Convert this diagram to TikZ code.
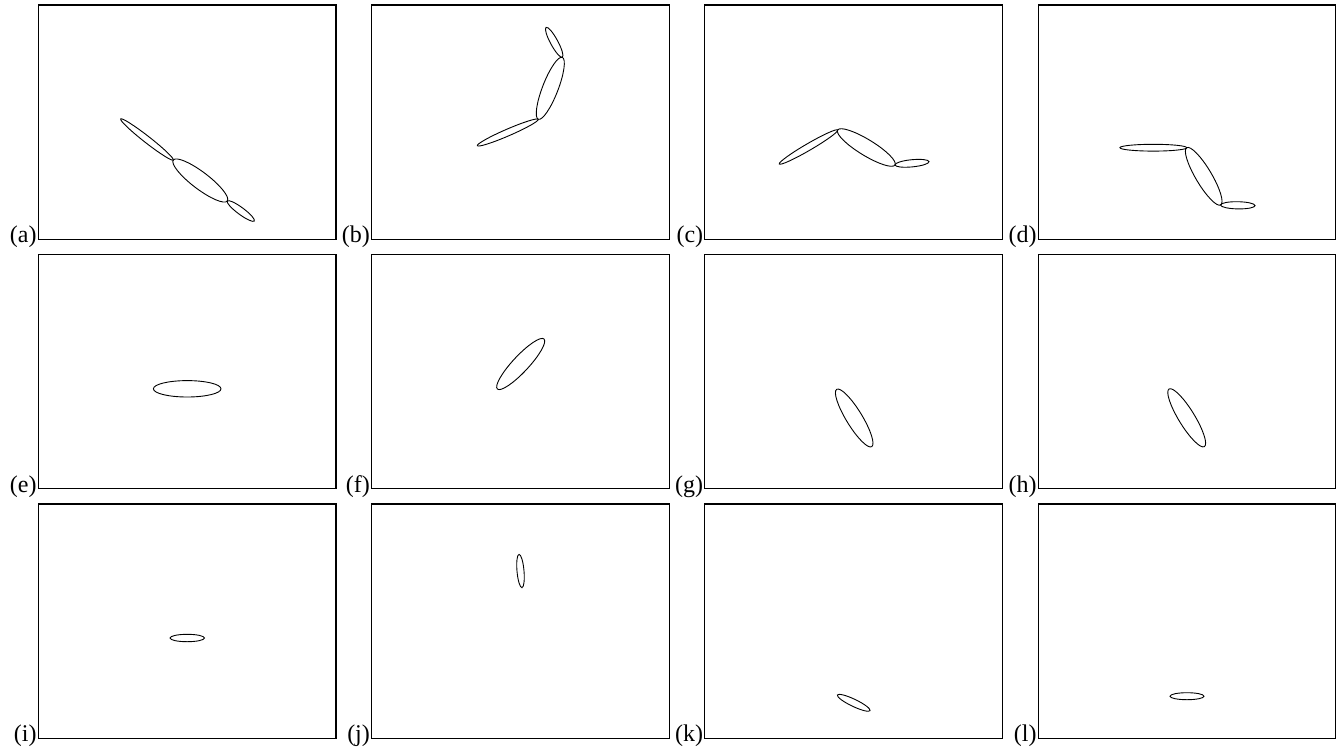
\documentclass[tikz,border=0pt]{standalone}
\usepackage{fontspec}
\setmainfont{Liberation Serif}
\begin{document}
\begin{tikzpicture}[x=1pt,y=-1pt,
  panel/.style={draw=black,line width=1.1pt},
  link/.style={draw=black,line width=0.9pt},
  lbl/.style={anchor=base east,inner sep=0pt,font=\fontsize{24}{24}\selectfont}]
\useasboundingbox (0,0) rectangle (1341,750);
\newcommand\limb[5]{\draw[link,rotate around={#5:(#1,#2)}] (#1,#2) ellipse (#3 and #4);}
% panels
\foreach \c/\r/\t [count=\i] in {0/0/a,1/0/b,2/0/c,3/0/d,0/1/e,1/1/f,2/1/g,3/1/h,0/2/i,1/2/j,2/2/k,3/2/l}{
  \pgfmathsetmacro\xl{38.3+333.3*\c}
  \pgfmathsetmacro\yt{5+249.5*\r}
  \draw[panel] (\xl,\yt) rectangle ++(297.7,234.3);
  \node[lbl] (lab\t) at (\xl-1.5,\yt+237.5) {(\t)};
}
% (a)
\limb{147}{139.5}{33.4}{3.3}{-38}
\limb{200.3}{180.5}{33.9}{8.5}{-37.2}
\limb{240.8}{211}{16.8}{3.5}{-36.5}
% (b)
\limb{554.2}{42.3}{17}{3.7}{-61.5}
\limb{550.3}{88.3}{33.2}{7.8}{68.8}
\limb{507.8}{132.5}{33.2}{3.4}{23.4}
% (c)
\limb{808.5}{147}{33.8}{3.4}{30.2}
\limb{866.3}{147.5}{33.6}{8}{-31.4}
\limb{912}{163.3}{17.1}{3.6}{5.5}
% (d)
\limb{1153.3}{147.7}{33.4}{3.4}{0}
\limb{1203.7}{176.3}{33.3}{8}{-59.3}
\limb{1237.8}{205.3}{17.2}{3.6}{-1}
% (e)-(h)
\limb{187.2}{388.8}{33.8}{8.2}{0}
\limb{520.7}{364}{34.2}{8}{47}
\limb{854.2}{418}{33.6}{8}{-58.6}
\limb{1186.7}{417.8}{33.8}{8}{-58.5}
% (i)-(l)
\limb{187.2}{638}{17.2}{3.7}{0}
\limb{520.5}{571}{16.7}{3.5}{-85}
\limb{853.7}{702.8}{18.1}{3.6}{-25.6}
\limb{1187}{696.2}{17}{3.5}{0}
\end{tikzpicture}
\end{document}
